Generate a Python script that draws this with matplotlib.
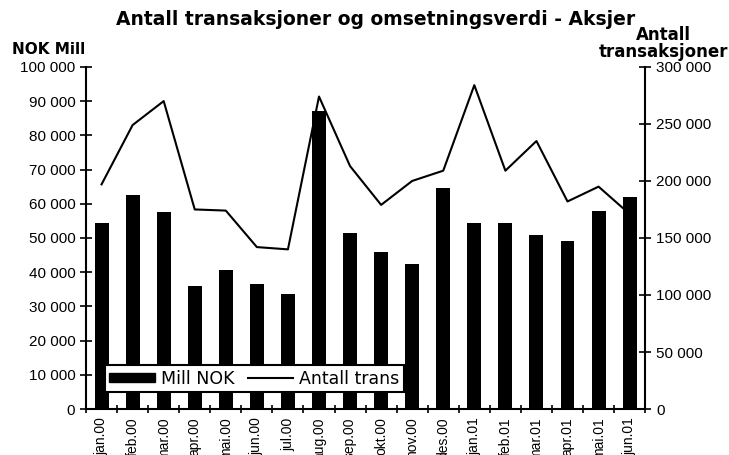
import matplotlib.pyplot as plt
import numpy as np
from matplotlib.ticker import FuncFormatter, FixedLocator
from matplotlib.patches import Rectangle

plt.rcParams['font.family'] = ['Liberation Sans', 'DejaVu Sans']

# data
months = ['jan.00', 'feb.00', 'mar.00', 'apr.00', 'mai.00', 'jun.00', 'jul.00',
          'aug.00', 'sep.00', 'okt.00', 'nov.00', 'des.00', 'jan.01', 'feb.01',
          'mar.01', 'apr.01', 'mai.01', 'jun.01']
mill_nok = [54500, 62500, 57500, 36000, 40500, 36500, 33500, 87000, 51500,
            46000, 42500, 64500, 54500, 54500, 51000, 49000, 58000, 62000]
antall_trans = [197000, 249000, 270000, 175000, 174000, 142000, 140000, 274000,
                213000, 179000, 200000, 209000, 284000, 209000, 235000, 182000,
                195000, 171000]

def space_fmt(v, pos):
    return '{:,.0f}'.format(v).replace(',', ' ')

fig = plt.figure(figsize=(7.29, 4.55), dpi=100)
ax = fig.add_axes([0.118, 0.101, 0.767, 0.752])
ax2 = ax.twinx()

x = np.arange(len(months))
bars = ax.bar(x, mill_nok, width=0.45, color='black', zorder=2)
line, = ax2.plot(x, antall_trans, color='black', lw=1.5, zorder=3)

ax.set_xlim(-0.5, len(months) - 0.5)
ax.set_ylim(0, 100000)
ax2.set_ylim(0, 300000)
ax.set_yticks(np.arange(0, 100001, 10000))
ax2.set_yticks(np.arange(0, 300001, 50000))
ax.yaxis.set_major_formatter(FuncFormatter(space_fmt))
ax2.yaxis.set_major_formatter(FuncFormatter(space_fmt))

ax.xaxis.set_major_locator(FixedLocator(np.arange(-0.5, len(months), 1.0)))
ax.xaxis.set_major_formatter(FuncFormatter(lambda v, p: ''))
ax.xaxis.set_minor_locator(FixedLocator(x))
ax.set_xticklabels(months, minor=True, rotation=90, va='top', ha='center')
ax.tick_params(axis='x', which='major', direction='inout', length=6, width=1.2)
ax.tick_params(axis='x', which='minor', length=0, labelsize=10, pad=6)
ax.tick_params(axis='y', direction='inout', length=8.5, width=1.2, labelsize=11)
ax2.tick_params(axis='y', direction='inout', length=8.5, width=1.2, labelsize=11)

for a in (ax, ax2):
    a.spines['top'].set_visible(False)
    for s in ('left', 'right', 'bottom'):
        a.spines[s].set_linewidth(1.5)
ax.spines['right'].set_visible(False)
ax2.spines['left'].set_visible(False)
ax2.spines['bottom'].set_visible(False)

leg_handle = Rectangle((0, 0), 1, 1, facecolor='black', edgecolor='black')
leg = ax2.legend([leg_handle, line], ['Mill NOK', 'Antall trans'], ncol=2,
                 loc='lower left', bbox_to_anchor=(0.034, 0.05), frameon=True,
                 fancybox=False, edgecolor='black', framealpha=1,
                 prop={'family': 'DejaVu Sans', 'size': 12.5},
                 handlelength=2.6, handleheight=0.4, columnspacing=0.8,
                 handletextpad=0.35, borderpad=0.25, borderaxespad=0)
leg.get_frame().set_linewidth(1.5)

fig.text(0.515, 0.958, 'Antall transaksjoner og omsetningsverdi - Aksjer',
         ha='center', va='center', fontsize=13.5, fontweight='bold',
         family='DejaVu Sans')
fig.text(0.016, 0.892, 'NOK Mill', ha='left', va='center', fontsize=11,
         fontweight='bold', family='DejaVu Sans')
fig.text(0.9985, 0.905, 'Antall\ntransaksjoner', ha='right', va='center',
         fontsize=12, fontweight='bold', family='DejaVu Sans',
         linespacing=0.9, multialignment='center')

fig.savefig('out.png', dpi=100)
